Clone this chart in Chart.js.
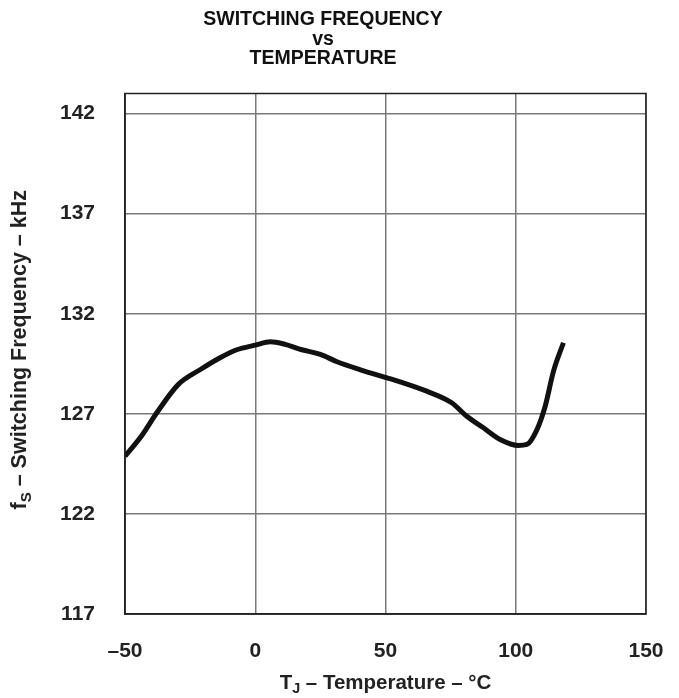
<!DOCTYPE html>
<html>
<head>
<meta charset="utf-8">
<script src="https://cdn.jsdelivr.net/npm/chart.js@4.4.0/dist/chart.umd.min.js"></script>
<style>
  html, body { margin: 0; padding: 0; background: #fff; }
  #wrap { width: 679px; height: 698px; }
</style>
</head>
<body>
<div id="wrap"><canvas id="myChart" width="679" height="698"></canvas></div>
<script>
// junction temperature (°C)
var temps = [-50, -43.6, -37.8, -29.5, -21.2, -13.5, -7.1, 0, 5.8, 11.5, 17.9, 25, 31.4, 40.4,
  50.6, 55.6, 65.8, 75.4, 81.2, 87.6, 94, 101, 104.3, 108.1, 111.3, 114.5, 118.3];
// switching frequency (kHz)
var freqs = [124.88, 125.9, 127.05, 128.47, 129.2, 129.8, 130.2, 130.43, 130.6, 130.47, 130.2, 129.97, 129.6, 129.2,
  128.8, 128.6, 128.13, 127.55, 126.88, 126.3, 125.72, 125.42, 125.47, 126.2, 127.38, 129.13, 130.55];

var xTicks = [-50, 0, 50, 100, 150];
var yTicks = [117, 122, 127, 132, 137, 142];
var titleLines = ["SWITCHING FREQUENCY", "vs", "TEMPERATURE"];

var FONT = "'Liberation Sans', Arial, sans-serif";

// 첨자 있는 축 제목 그리기
function drawSubText(ctx, parts, size) {
  var total = 0;
  parts.forEach(function (p) {
    ctx.font = "bold " + (p.sub ? size * 0.7 : size) + "px " + FONT;
    p.w = ctx.measureText(p.t).width;
    total += p.w;
  });
  var x = -total / 2;
  parts.forEach(function (p) {
    ctx.font = "bold " + (p.sub ? size * 0.7 : size) + "px " + FONT;
    ctx.fillText(p.t, x, p.sub ? size * 0.3 : 0);
    x += p.w;
  });
}

var axisTitles = {
  id: "axisTitles",
  afterDraw: function (chart) {
    var ctx = chart.ctx;
    var a = chart.chartArea;
    ctx.save();
    // 외곽 테두리
    ctx.strokeStyle = "#222";
    ctx.lineWidth = 1.5;
    ctx.strokeRect(a.left, a.top, a.right - a.left, a.bottom - a.top);
    ctx.fillStyle = "#222";
    ctx.textBaseline = "middle";
    ctx.textAlign = "left";
    // x축 제목
    ctx.save();
    ctx.translate((a.left + a.right) / 2, 683);
    drawSubText(ctx, [{ t: "T" }, { t: "J", sub: true }, { t: " \u2013 Temperature \u2013 \u00B0C" }], 20.5);
    ctx.restore();
    // y축 제목
    ctx.save();
    ctx.translate(20, (a.top + a.bottom) / 2 - 4);
    ctx.rotate(-Math.PI / 2);
    drawSubText(ctx, [{ t: "f" }, { t: "S", sub: true }, { t: " \u2013 Switching Frequency \u2013 kHz" }], 21.5);
    ctx.restore();
    ctx.restore();
  },
};

new Chart(document.getElementById("myChart"), {
  type: "line",
  data: {
    datasets: [
      {
        data: temps.map(function (t, i) { return { x: t, y: freqs[i] }; }),
        borderColor: "#111",
        borderWidth: 5,
        pointRadius: 0,
        cubicInterpolationMode: "monotone",
        fill: false,
      },
    ],
  },
  options: {
    responsive: false,
    animation: false,
    layout: { padding: { left: 0, right: 33, bottom: 0 } },
    plugins: {
      legend: { display: false },
      tooltip: { enabled: false },
      title: {
        display: true,
        text: titleLines,
        color: "#111",
        font: { family: FONT, size: 19.5, weight: "bold", lineHeight: 1.0 },
        padding: { top: 10, bottom: 25 },
      },
    },
    scales: {
      x: {
        type: "linear",
        min: -50,
        max: 150,
        afterBuildTicks: function (s) { s.ticks = xTicks.map(function (v) { return { value: v }; }); },
        afterFit: function (s) {
          s.height = 698 - 614;
          s.paddingLeft = 0;
          s.paddingRight = 0;
        },
        ticks: {
          padding: 25,
          color: "#222",
          font: { family: FONT, size: 21, weight: "bold" },
          callback: function (v) { return v < 0 ? "\u2013" + Math.abs(v) : String(v); },
        },
        grid: { color: "#7a7a7a", lineWidth: 1.5, drawTicks: false },
        border: { color: "#222", width: 1.5 },
      },
      y: {
        type: "linear",
        min: 117,
        max: 143,
        afterBuildTicks: function (s) { s.ticks = yTicks.map(function (v) { return { value: v }; }); },
        afterFit: function (s) { s.width = 125; },
        ticks: {
          padding: 30,
          color: "#222",
          font: { family: FONT, size: 21, weight: "bold" },
        },
        grid: { color: "#7a7a7a", lineWidth: 1.5, drawTicks: false },
        border: { color: "#222", width: 1.5 },
      },
    },
  },
  plugins: [axisTitles],
});
</script>
</body>
</html>
